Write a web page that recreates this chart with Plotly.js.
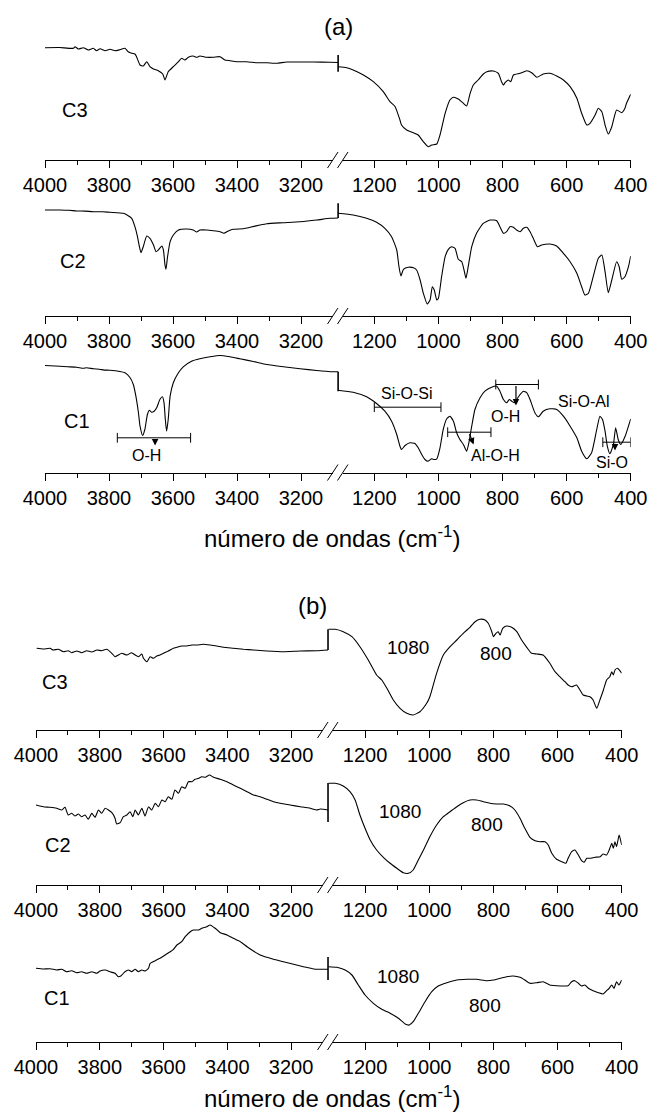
<!DOCTYPE html>
<html><head><meta charset="utf-8">
<script src="https://cdn.plot.ly/plotly-3.0.1.min.js"></script>
<style>html,body{margin:0;padding:0;background:#fff}#plot{width:649px;height:1114px}</style>
</head><body><div id="plot"></div>
<script>
// ---------- tick labels ----------
const ticksHigh = [4000, 3800, 3600, 3400, 3200];
const minorHigh = [3900, 3700, 3500, 3300];
const ticksLow = [1200, 1000, 800, 600, 400];
const minorLow = [1100, 900, 700, 500];
const sampleNames = ['C3', 'C2', 'C1'];

// ---------- panel (a) spectra: [wavenumber, transmittance (a.u.)] ----------
const a_C3_high = [[4000,112.3],[3955,112.5],[3911,111.7],[3906,113.3],[3896,111],[3880,112.3],[3865,110],[3849,111.7],[3839,109.3],[3828,111.3],[3812,109.3],[3797,110.7],[3781,109.3],[3766,110.3],[3750,111.7],[3740,108.3],[3729,106.7],[3719,106],[3714,103.3],[3703,95],[3693,94],[3682,98.3],[3672,93.3],[3661,91],[3646,89.3],[3632,86],[3625,80],[3615,88.3],[3599,93.3],[3583,98.3],[3573,101.7],[3563,100],[3552,102.7],[3537,104],[3526,102.7],[3516,104],[3495,102.7],[3474,102.7],[3453,103.3],[3438,100],[3422,99.3],[3401,98.3],[3370,98.3],[3339,97.3],[3307,97.3],[3276,96.7],[3245,98],[3203,98],[3162,98],[3109,97.7],[3084,97.5]];
const a_C3_low = [[1314,93.3],[1286,92.3],[1266,90],[1234,85],[1203,78.3],[1172,68.3],[1151,58.3],[1135,53.3],[1120,40],[1115,35],[1099,30],[1078,27.3],[1063,25],[1047,18.3],[1032,13.3],[1021,15],[1005,16],[995,25],[979,46.7],[964,60],[953,62.7],[938,61],[922,56.7],[912,54],[901,66.7],[891,75],[876,80],[860,86],[849,88.3],[829,89],[813,86.7],[803,78.3],[797,75],[792,77.3],[782,80],[774,78.3],[766,85],[745,86.7],[724,89.3],[709,87.3],[693,82.7],[673,86],[652,86.7],[631,84],[610,80],[589,73.3],[568,61.7],[553,46.7],[537,35],[527,36.7],[511,45],[501,51.7],[490,48.3],[480,35],[470,26],[459,33.3],[444,50],[428,47.3],[418,51.7],[413,56.7],[400,65.7]];
const a_C3_break = [88.3, 105];

const a_C2_high = [[4000,106],[3953,106],[3925,105.7],[3901,105],[3875,104.9],[3849,104.3],[3820,104.3],[3797,103.7],[3755,102.7],[3740,100.3],[3729,97.7],[3719,89.3],[3711,79.3],[3705,69.3],[3700,63.3],[3693,69.3],[3682,80],[3672,77.7],[3661,71],[3653,64.3],[3646,66],[3635,70],[3630,66],[3625,51],[3622,46.7],[3617,59.3],[3609,74.3],[3599,81],[3583,86],[3557,87],[3537,86],[3526,84],[3516,86],[3495,86],[3474,85.3],[3453,84.3],[3441,82.7],[3427,85],[3412,86.7],[3380,87.3],[3359,88.7],[3328,91],[3307,92.3],[3255,93.3],[3203,94.3],[3151,96],[3109,97.7],[3084,98]];
const a_C2_low = [[1314,102.7],[1266,101],[1224,97.7],[1193,93.7],[1167,87.7],[1146,79.3],[1130,66],[1123,49.3],[1117,40],[1109,46.7],[1094,48.7],[1078,48.3],[1068,46],[1057,36],[1047,22.7],[1035,12],[1026,16],[1019,29.3],[1013,26],[1005,16],[1000,17.7],[990,39.3],[979,59.3],[969,66.7],[959,69.3],[948,67.7],[938,56.7],[927,54.3],[920,46],[914,37.7],[907,49.3],[896,69.3],[881,82.7],[860,92.7],[839,96],[818,95.3],[808,89.3],[797,82.7],[787,84.3],[777,89.3],[766,88.7],[756,86],[745,84.3],[735,87.7],[724,88.7],[714,84.3],[704,77.7],[691,69.3],[678,71],[652,72],[631,70],[610,62.7],[589,54.3],[568,42.7],[553,29.3],[543,21],[532,22.7],[517,39.3],[501,57.7],[490,61],[480,44.3],[470,23.3],[459,36],[444,54.3],[436,49.3],[428,36.7],[418,39.3],[407,49.3],[400,60]];
const a_C2_break = [98, 112.7];

const a_C1_high = [[4000,107],[3953,106.3],[3930,105.8],[3901,105.3],[3880,104.2],[3870,104.8],[3849,103.7],[3830,103.3],[3815,102.4],[3797,102.3],[3750,99.7],[3734,94.7],[3724,88],[3716,76.3],[3708,59.7],[3703,46.3],[3695,37],[3688,43],[3680,58],[3674,62.3],[3667,60.3],[3659,61.3],[3651,64.7],[3641,73],[3633,75.7],[3628,69.7],[3624,53],[3620,41.3],[3615,53],[3609,76.3],[3599,89.7],[3583,99.7],[3568,105.7],[3542,111.3],[3516,113.7],[3484,115.7],[3453,117],[3422,115.7],[3391,113.7],[3349,111],[3307,108],[3255,105.7],[3203,103.7],[3151,102],[3109,100.8],[3084,100.8]];
const a_C1_low = [[1314,82.3],[1266,80.3],[1224,75.7],[1193,69],[1167,61.3],[1146,51.3],[1130,38],[1120,26.3],[1115,23],[1104,27],[1089,29.7],[1073,29],[1063,24.7],[1052,18],[1042,13],[1032,11.3],[1021,13.7],[1013,13],[1005,13.7],[995,24.7],[985,43],[974,53.7],[964,56.3],[953,51.3],[943,39.7],[933,33],[922,28],[912,21.3],[905,29.7],[896,46.3],[886,63],[870,74.7],[855,81.3],[834,85.3],[818,86.3],[808,81.3],[797,73],[787,69.7],[779,73],[771,71.3],[763,69.7],[756,73],[745,78],[735,81.3],[724,79.7],[714,73],[699,59.7],[688,55.7],[673,61.3],[652,63.7],[631,63],[610,56.3],[589,46.3],[568,34.7],[553,21.3],[537,13.7],[522,19.7],[506,43],[496,56.3],[488,53],[480,41.3],[473,26.3],[465,18.7],[454,28],[447,44.7],[439,33],[431,28],[418,35.7],[400,53.7]];
const a_C1_break = [81.3, 100.8];

// ---------- panel (b) spectra ----------
const b_C3_high = [[3998,81.7],[3977,81],[3956,81.7],[3946,80],[3930,80.7],[3914,78.3],[3899,79.3],[3888,77.3],[3872,79],[3857,77.3],[3841,79.3],[3825,78],[3809,80],[3794,79.3],[3778,80.7],[3762,76.7],[3752,73.3],[3742,75],[3731,76.7],[3715,75],[3700,77.3],[3689,75],[3679,73.3],[3668,76],[3663,71.7],[3652,68.3],[3642,73.3],[3632,71.7],[3621,74],[3611,75],[3600,76.7],[3590,78.3],[3579,80],[3569,81.7],[3558,82.7],[3543,84],[3527,84],[3511,85],[3495,85],[3475,85.7],[3454,85],[3433,84],[3412,82.7],[3381,81.7],[3349,80.7],[3318,80],[3276,79],[3224,78.3],[3171,79],[3119,79.3],[3084,80]];
const b_C3_low = [[1314,100.7],[1293,100.7],[1268,98.3],[1241,93.3],[1216,83.3],[1190,70],[1164,55],[1148,50],[1132,41.7],[1112,30],[1091,21.7],[1070,16.7],[1050,15],[1029,18.3],[1008,26.7],[998,33.3],[977,56.7],[956,75],[935,83.3],[914,90],[894,96.7],[873,102.7],[857,108.3],[842,110.7],[826,110],[816,106.7],[805,98.3],[800,93.3],[792,96.7],[785,98.3],[779,95],[771,101.7],[759,104],[743,102.7],[727,98.3],[712,90],[696,82.7],[681,76.7],[665,76],[645,75],[624,66.7],[608,58.3],[593,53.3],[577,48.3],[567,45],[556,43.3],[541,45],[530,40],[520,35],[509,34],[499,33.3],[489,30],[478,21.7],[468,30],[457,40],[447,50],[437,53.3],[431,58.3],[426,55],[421,60],[413,61.7],[406,59.3],[400,56.7]];
const b_C3_break = [80, 100.7];

const b_C2_high = [[4000,80],[3977,78.3],[3956,77.7],[3935,76.7],[3919,75],[3909,77.7],[3899,70],[3888,71.7],[3878,69],[3867,71],[3857,68.3],[3846,70],[3836,65.7],[3825,71.7],[3815,67.7],[3804,75],[3794,71.7],[3783,76.7],[3773,75],[3762,72.3],[3752,66.7],[3747,61],[3736,62.3],[3726,68.3],[3715,70],[3705,73.3],[3696,68.3],[3689,75],[3679,70],[3668,76.7],[3658,69],[3647,78.3],[3637,75],[3626,81.7],[3616,78.3],[3605,85],[3595,83.3],[3585,88.3],[3574,85.7],[3564,95],[3553,91.7],[3543,98.3],[3532,96.7],[3522,103.3],[3511,103.3],[3501,105.7],[3490,106.7],[3480,108.3],[3469,107.7],[3456,110],[3443,107.7],[3422,105.7],[3401,103.3],[3381,100],[3359,96.7],[3338,93.3],[3318,90],[3297,88.3],[3276,85.7],[3255,83.3],[3234,81.7],[3203,80],[3171,78.3],[3140,76.7],[3119,75],[3108,76],[3084,75]];
const b_C2_low = [[1314,101.7],[1293,101.7],[1268,99],[1247,93.3],[1231,85],[1216,70],[1200,56.7],[1184,45],[1164,35],[1143,27.7],[1122,21.7],[1101,16.7],[1081,12.3],[1065,11.7],[1050,15],[1034,25],[1018,35],[998,48.3],[977,60],[956,68.3],[935,73.3],[914,78.3],[894,82.3],[873,85],[852,85],[831,83.3],[811,81.7],[790,81],[769,81],[748,79],[733,75],[717,66.7],[702,56.7],[686,47.7],[670,44.3],[655,43.3],[639,43.3],[629,40],[618,31.7],[603,25.7],[587,23.3],[574,21.7],[567,26.7],[556,33.3],[546,35],[535,30],[525,24.3],[517,22.7],[509,26.7],[499,26.7],[483,27.7],[467,28.3],[458,31],[447,30],[439,35],[431,41.7],[426,36.7],[421,43.3],[416,38.3],[408,50],[400,40]];
const b_C2_break = [63, 102];

const b_C1_high = [[4000,73.7],[3977,73],[3956,73.3],[3935,72],[3919,72.7],[3904,70.3],[3888,71.3],[3872,69.3],[3857,70.3],[3841,68.7],[3825,70.3],[3809,68.7],[3799,71],[3783,72],[3768,70.3],[3752,68.7],[3742,65.3],[3734,66],[3721,70.3],[3710,72],[3700,70.3],[3689,72.7],[3679,70.3],[3668,72],[3658,71],[3647,73.7],[3642,78.7],[3626,81.3],[3611,83.7],[3595,87],[3579,90.3],[3569,92.7],[3558,97],[3543,100.3],[3532,105.3],[3516,110.3],[3506,112],[3490,112],[3480,113.7],[3464,115.3],[3454,117],[3438,113.7],[3422,109.3],[3401,107],[3381,103.7],[3359,100.3],[3338,95.3],[3318,91],[3297,87],[3276,84.7],[3255,82.7],[3224,80.3],[3192,77.7],[3161,75.3],[3129,73],[3108,72.7],[3084,72.7]];
const b_C1_low = [[1314,75.3],[1288,74.7],[1262,72],[1241,67],[1221,57],[1200,47],[1174,38.7],[1148,32.7],[1122,28.7],[1096,23.7],[1075,18],[1062,17],[1050,20.3],[1034,28.7],[1013,40.3],[992,50.3],[972,56],[945,59.3],[914,62],[883,62.7],[852,62.7],[821,61.3],[800,62],[779,63.7],[759,65.3],[738,66],[717,64.7],[702,62],[686,58.7],[665,59.3],[645,60.3],[624,57],[603,56.3],[582,56],[567,56.3],[556,60.3],[546,61.3],[535,58.7],[525,56],[515,57],[504,53.7],[489,51.3],[473,49.3],[458,48],[447,51.3],[439,53.7],[431,57],[424,53.7],[416,60.3],[409,57],[400,62]];
const b_C1_break = [62, 85];

// position of the drawn break marker on the high-wavenumber scale
const breakW = 3084;

// band assignments in (a) C1
const bands = [
  {label:'O-H',     from:3774, to:3545, level:34.7, arrowX:3656, arrowTail:34.7, arrowHead:27, arrowTailX:3656, textX:3682, textY:17.5, side:'high'},
  {label:'Si-O-Si', from:1200, to:992,  level:65.3, textX:1097, textY:79.5, side:'low'},
  {label:'Al-O-H',  from:971,  to:836,  level:40.3, arrowTailX:905, arrowTail:40, arrowX:890, arrowHead:28, textX:822, textY:17.5, side:'low'},
  {label:'O-H',     from:821,  to:688,  level:88,   arrowTailX:758, arrowTail:88, arrowX:758, arrowHead:67, textX:792, textY:56, side:'low'},
  {label:'Si-O-Al', textX:547, textY:71.5, side:'low'},
  {label:'Si-O',    from:487,  to:400,  level:30.3, arrowTailX:449, arrowTail:30.3, arrowX:449, arrowHead:22, textX:459, textY:10, side:'low'}
];
// band positions in (b)
const bandsB = [['1080', 1065, 82.7, '800', 791, 76.7], ['1080', 1091, 73.3, '800', 821, 60], ['1080', 1096, 65.3, '800', 826, 37]];

// ---------- layout geometry ----------
const W = 649, H = 1114;
const FONT = '"Liberation Sans", Arial, Helvetica, sans-serif';
const geom = [
  {leftStart:45, leftScale:0.32, rightEnd:630.7, rightScale:0.3205, breakX:338, bases:[160, 316, 472.5]},
  {leftStart:36, leftScale:0.3188, rightEnd:621.7, rightScale:0.3208, breakX:328, bases:[730, 885, 1042]}
];
const spectra = [
  {p:0, r:0, high:a_C3_high, low:a_C3_low, brk:a_C3_break},
  {p:0, r:1, high:a_C2_high, low:a_C2_low, brk:a_C2_break},
  {p:0, r:2, high:a_C1_high, low:a_C1_low, brk:a_C1_break},
  {p:1, r:0, high:b_C3_high, low:b_C3_low, brk:b_C3_break},
  {p:1, r:1, high:b_C2_high, low:b_C2_low, brk:b_C2_break},
  {p:1, r:2, high:b_C1_high, low:b_C1_low, brk:b_C1_break}
];
const namePos = [[75,110],[73,261],[77,421],[55,682],[58,845],[57,998]];

const XP = v => v / W, YP = v => 1 - v / H;
const xr = id => id === 1 ? 'x' : 'x' + id;
const yr = id => id === 1 ? 'y' : 'y' + id;
const xk = id => id === 1 ? 'xaxis' : 'xaxis' + id;
const yk = id => id === 1 ? 'yaxis' : 'yaxis' + id;

const lineStyle = {color:'#000', width:1.1, shape:'spline', smoothing:0.5};
const traces = [], annotations = [], shapes = [];
const layout = {
  width:W, height:H, margin:{l:0, r:0, t:0, b:0},
  paper_bgcolor:'#fff', plot_bgcolor:'rgba(0,0,0,0)', showlegend:false,
  font:{family:FONT, color:'#000'}
};

function xAxis(domPx, range, tv, mv, yId) {
  return {
    domain:[XP(domPx[0]), XP(domPx[1])], range:range, anchor:yr(yId),
    showline:true, linecolor:'#000', linewidth:1,
    ticks:'outside', ticklen:7, tickwidth:1, tickcolor:'#000',
    tickmode:'array', tickvals:tv, ticktext:tv.map(String),
    minor:{tickmode:'array', tickvals:mv, ticks:'outside', ticklen:4, tickwidth:1, tickcolor:'#000'},
    showgrid:false, zeroline:false, fixedrange:true,
    tickfont:{family:FONT, size:20, color:'#000'}
  };
}

spectra.forEach((s, i) => {
  const g = geom[s.p], base = g.bases[s.r];
  const xL = 2*i + 1, xR = 2*i + 2, yId = i + 1;
  layout[xk(xL)] = xAxis([g.leftStart, g.leftStart + 920*g.leftScale], [4000, 3080], ticksHigh, minorHigh, yId);
  layout[xk(xR)] = xAxis([g.rightEnd - 915*g.rightScale, g.rightEnd], [1315, 400], ticksLow, minorLow, yId);
  layout[yk(yId)] = {domain:[YP(base), YP(base - 150)], range:[0, 150], visible:false, fixedrange:true};
  traces.push({x:s.high.map(p => p[0]), y:s.high.map(p => p[1]), xaxis:xr(xL), yaxis:yr(yId), mode:'lines', line:lineStyle, hoverinfo:'skip'});
  traces.push({x:[breakW, breakW], y:s.brk, xaxis:xr(xL), yaxis:yr(yId), mode:'lines', line:{color:'#000', width:1.6}, hoverinfo:'skip'});
  traces.push({x:s.low.map(p => p[0]), y:s.low.map(p => p[1]), xaxis:xr(xR), yaxis:yr(yId), mode:'lines', line:lineStyle, hoverinfo:'skip'});
  // axis break marks
  const cx = g.breakX;
  shapes.push({type:'rect', xref:'paper', yref:'paper', x0:XP(cx-5), x1:XP(cx+5), y0:YP(base+2), y1:YP(base-2), fillcolor:'#fff', line:{width:0}});
  shapes.push({type:'line', xref:'paper', yref:'paper', x0:XP(cx-10.5), y0:YP(base+8), x1:XP(cx+0), y1:YP(base-8), line:{color:'#000', width:1}});
  shapes.push({type:'line', xref:'paper', yref:'paper', x0:XP(cx-0.5), y0:YP(base+8), x1:XP(cx+10), y1:YP(base-8), line:{color:'#000', width:1}});
  annotations.push({xref:'paper', yref:'paper', x:XP(namePos[i][0]), y:YP(namePos[i][1]), text:sampleNames[s.r], showarrow:false, font:{size:20}, xanchor:'center', yanchor:'middle'});
  if (s.p === 1) {
    const b = bandsB[s.r];
    annotations.push({xref:xr(xR), yref:yr(yId), x:b[1], y:b[2], text:b[0], showarrow:false, font:{size:19}});
    annotations.push({xref:xr(xR), yref:yr(yId), x:b[4], y:b[5], text:b[3], showarrow:false, font:{size:19}});
  }
});

// band annotations of (a) C1 (subplot index 2)
bands.forEach(b => {
  const xa = b.side === 'high' ? xr(5) : xr(6), ya = yr(3);
  if (b.from !== undefined) {
    traces.push({x:[b.from, b.to], y:[b.level, b.level], xaxis:xa, yaxis:ya, mode:'lines+markers',
      line:{color:'#000', width:1}, marker:{symbol:'line-ns', size:7, line:{width:1, color:'#000'}}, hoverinfo:'skip'});
  }
  if (b.arrowX !== undefined) {
    annotations.push({xref:xa, yref:ya, axref:xa, ayref:ya, x:b.arrowX, y:b.arrowHead, ax:b.arrowTailX, ay:b.arrowTail,
      text:'', showarrow:true, arrowhead:2, arrowsize:1.1, arrowwidth:1.2, arrowcolor:'#000', standoff:0, startstandoff:0});
  }
  annotations.push({xref:xa, yref:ya, x:b.textX, y:b.textY, text:b.label, showarrow:false, font:{size:16}});
});

// panel titles and axis titles
annotations.push({xref:'paper', yref:'paper', x:XP(338), y:YP(11), text:'(a)', showarrow:false, font:{size:24}, yanchor:'top'});
annotations.push({xref:'paper', yref:'paper', x:XP(312), y:YP(605), text:'(b)', showarrow:false, font:{size:24}});
annotations.push({xref:'paper', yref:'paper', x:XP(332), y:YP(537), text:'número de ondas (cm<sup>-1</sup>)', showarrow:false, font:{size:24}});
annotations.push({xref:'paper', yref:'paper', x:XP(332), y:0, text:'número de ondas (cm<sup>-1</sup>)', showarrow:false, font:{size:24}, yanchor:'bottom'});

layout.annotations = annotations;
layout.shapes = shapes;
Plotly.newPlot('plot', traces, layout, {staticPlot:true, displayModeBar:false});
</script>
</body></html>
